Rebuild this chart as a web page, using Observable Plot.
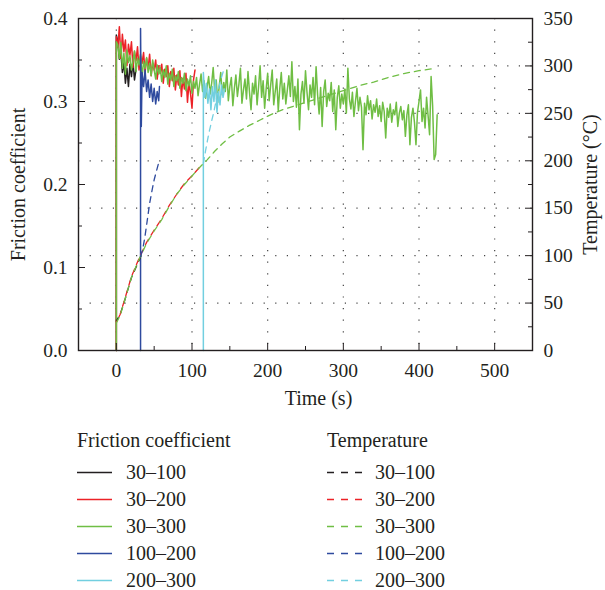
<!DOCTYPE html>
<html>
<head>
<meta charset="utf-8">
<script src="https://cdn.jsdelivr.net/npm/d3@7"></script>
<script src="https://cdn.jsdelivr.net/npm/@observablehq/plot@0.6"></script>
<style>
  body { margin: 0; background: #fff; font-family: "Liberation Serif", serif; color: #231f20; }
  #legend { position: relative; width: 605px; height: 170px; font-size: 20px; }
  .lg { position: absolute; height: 27px; line-height: 27px; white-space: nowrap; }
  .lg svg { position: absolute; top: 0; }
</style>
</head>
<body>
<div id="chart"></div>
<div id="legend"></div>
<script>
// ---------- tick labels / scales ----------
const xTicks = [0, 100, 200, 300, 400, 500];
const xMinorTicks = [50, 150, 250, 350, 450];
const frictionTicks = [0, 0.1, 0.2, 0.3, 0.4];
const frictionMinorTicks = [0.05, 0.15, 0.25, 0.35];
const tempTicks = [0, 50, 100, 150, 200, 250, 300, 350];
const tempMinorTicks = [25, 75, 125, 175, 225, 275, 325];
const tempGrid = [50, 100, 150, 200, 250, 300];

// ---------- series names ----------
const seriesNames = ["30–100", "30–200", "30–300", "100–200", "200–300"];
const seriesColors = ["#231f20", "#ec2227", "#6fbe44", "#2e4a9e", "#72cfe0"];

// ---------- friction coefficient ----------
const blackTime = [0, 0, 2, 4, 6, 8, 10, 12, 14, 16, 18, 20, 22, 24, 26];
const blackFriction = [0, 0.380, 0.372, 0.351, 0.360, 0.335, 0.347, 0.322, 0.340, 0.318, 0.345, 0.330, 0.348, 0.326, 0.339];

// red: first point is the rise at t=0, then samples every 2 s from t=0
const redStart = 0, redStep = 2;
const redFriction = [0,
  0.378, 0.365, 0.390, 0.352, 0.381, 0.360, 0.374, 0.343, 0.369, 0.356,
  0.372, 0.341, 0.360, 0.349, 0.366, 0.338, 0.355, 0.346, 0.359, 0.335,
  0.352, 0.340, 0.357, 0.331, 0.346, 0.338, 0.350, 0.327, 0.343, 0.334,
  0.345, 0.322, 0.339, 0.330, 0.343, 0.318, 0.336, 0.325, 0.340, 0.314,
  0.332, 0.320, 0.337, 0.306, 0.328, 0.315, 0.334, 0.299, 0.322, 0.310,
  0.292, 0.326, 0.338];

// green: first point is the rise at t=0, then samples every 2 s from t=0
const greenStart = 0, greenStep = 2;
const greenFriction = [0, 0.372,
  0.368, 0.352, 0.371, 0.340, 0.358, 0.333, 0.362, 0.347, 0.355, 0.338,
  0.349, 0.361, 0.336, 0.352, 0.344, 0.357, 0.329, 0.348, 0.340, 0.353,
  0.335, 0.346, 0.331, 0.350, 0.338, 0.327, 0.344, 0.333, 0.341, 0.324,
  0.338, 0.329, 0.343, 0.321, 0.334, 0.326, 0.339, 0.318, 0.331, 0.325,
  0.336, 0.316, 0.329, 0.322, 0.334, 0.313, 0.327, 0.319, 0.331, 0.310,
  0.324, 0.316, 0.329, 0.307, 0.321, 0.333, 0.312, 0.325, 0.304, 0.318,
  0.330, 0.309, 0.322, 0.341, 0.313, 0.326, 0.299, 0.319, 0.335, 0.308,
  0.323, 0.312, 0.338, 0.301, 0.318, 0.329, 0.295, 0.316, 0.332, 0.306,
  0.321, 0.340, 0.298, 0.314, 0.327, 0.303, 0.336, 0.311, 0.290, 0.322,
  0.309, 0.331, 0.296, 0.318, 0.343, 0.305, 0.325, 0.292, 0.315, 0.334,
  0.301, 0.320, 0.338, 0.296, 0.312, 0.327, 0.289, 0.316, 0.335, 0.303,
  0.322, 0.297, 0.314, 0.331, 0.306, 0.348, 0.300, 0.318, 0.293, 0.327,
  0.266, 0.309, 0.324, 0.298, 0.337, 0.311, 0.290, 0.320, 0.305, 0.329,
  0.296, 0.342, 0.308, 0.285, 0.317, 0.270, 0.312, 0.326, 0.294, 0.310,
  0.301, 0.323, 0.288, 0.314, 0.266, 0.305, 0.319, 0.292, 0.309, 0.297,
  0.315, 0.286, 0.340, 0.303, 0.291, 0.311, 0.282, 0.300, 0.316, 0.289,
  0.305, 0.293, 0.242, 0.298, 0.284, 0.307, 0.290, 0.301, 0.279, 0.296,
  0.287, 0.303, 0.282, 0.295, 0.276, 0.299, 0.288, 0.256, 0.292, 0.281,
  0.297, 0.275, 0.290, 0.284, 0.299, 0.270, 0.286, 0.294, 0.278, 0.289,
  0.258, 0.284, 0.296, 0.248, 0.281, 0.292, 0.275, 0.248, 0.287, 0.300,
  0.314, 0.276, 0.292, 0.268, 0.305, 0.283, 0.260, 0.330, 0.295, 0.230,
  0.236, 0.284];

const blueTime = [32, 32, 33, 34, 36, 38, 40, 42, 44, 46, 48, 50, 52, 54, 56, 57];
const blueFriction = [0, 0.388, 0.270, 0.335, 0.318, 0.338, 0.312, 0.326, 0.305, 0.321, 0.300, 0.316, 0.297, 0.312, 0.301, 0.318];

const cyanTime = [115, 115, 117, 119, 121, 123, 125, 127, 129, 131, 133, 135, 137, 139, 141, 143];
const cyanFriction = [0, 0.335, 0.305, 0.322, 0.298, 0.315, 0.290, 0.318, 0.300, 0.326, 0.287, 0.312, 0.296, 0.320, 0.305, 0.315];

// ---------- temperature (°C) ----------
const blackTempTime = [0, 5, 10, 20, 30, 34];
const blackTemp = [31, 38, 50, 77, 95, 102];
const redTempTime = [0, 5, 10, 20, 30, 40, 50, 60, 70, 80, 90, 100, 112];
const redTemp = [30, 38, 51, 78, 97, 114, 127, 139, 153, 165, 176, 184, 195];
const greenTempTime = [0, 5, 10, 20, 30, 40, 50, 60, 70, 80, 90, 100, 110, 120, 130, 140, 150, 160, 175, 190,
  205, 220, 240, 260, 280, 300, 320, 340, 360, 380, 400, 418];
const greenTemp = [29, 37, 50, 77, 96, 113, 126, 138, 152, 165, 175, 184, 193, 201, 210, 218, 225, 230, 237, 243,
  249, 254, 259, 264, 269, 274, 279, 283, 288, 292, 295, 297];
const blueTempTime = [32, 35, 38, 41, 44, 47, 50, 53, 56];
const blueTemp = [99, 107, 121, 138, 155, 168, 180, 189, 198];
const cyanTempTime = [115, 118, 122, 126, 129, 132, 135, 139, 142];
const cyanTemp = [197, 211, 228, 242, 252, 264, 276, 288, 296];

// ---------- build tables ----------
const K = 0.4 / 350; // temperature → left-axis units
const pairs = (time, vals) => time.map((t, i) => ({t, v: vals[i]}));
const sampled = (t0, dt, vals) => vals.map((v, i) => ({t: i === 0 ? t0 : t0 + (i - 1) * dt, v}));

const frictionSeries = [
  pairs(blackTime, blackFriction),
  sampled(redStart, redStep, redFriction),
  sampled(greenStart, greenStep, greenFriction),
  pairs(blueTime, blueFriction),
  pairs(cyanTime, cyanFriction)
];
const tempSeries = [
  pairs(blackTempTime, blackTemp),
  pairs(redTempTime, redTemp),
  pairs(greenTempTime, greenTemp),
  pairs(blueTempTime, blueTemp),
  pairs(cyanTempTime, cyanTemp)
];
const dashOffsets = [2, 5, 0, 0, 0];

const W = 605, H = 420, ML = 78, MR = 73, MT = 18, MB = 70;
const PW = W - ML - MR, PH = H - MT - MB;
const ink = "#231f20";
const dot = {stroke: "#444", strokeWidth: 1.2, strokeDasharray: "1.2,10.4"};

const marks = [
  Plot.ruleX(xTicks, {x: d => d, ...dot}),
  Plot.ruleY(tempGrid, {y: d => d * K, ...dot}),
  ...frictionSeries.map((s, i) => Plot.line(s, {x: "t", y: "v", stroke: seriesColors[i], strokeWidth: 1.5})),
  ...tempSeries.map((s, i) => Plot.line(s, {x: "t", y: d => d.v * K, stroke: seriesColors[i], strokeWidth: 1.3,
    strokeDasharray: "6,5", strokeDashoffset: dashOffsets[i]})),
  // inward ticks
  Plot.tickY(frictionTicks, {y: d => d, insetRight: PW - 7, stroke: ink}),
  Plot.tickY(frictionMinorTicks, {y: d => d, insetRight: PW - 4, stroke: ink}),
  Plot.tickY(tempTicks, {y: d => d * K, insetLeft: PW - 7, stroke: ink}),
  Plot.tickY(tempMinorTicks, {y: d => d * K, insetLeft: PW - 4, stroke: ink}),
  Plot.tickX(xTicks, {x: d => d, insetTop: PH - 7, stroke: ink}),
  Plot.tickX(xMinorTicks, {x: d => d, insetTop: PH - 4, stroke: ink}),
  Plot.frame({stroke: ink, strokeWidth: 1.4}),
  Plot.axisY(frictionTicks, {anchor: "left", tickSize: 0, tickPadding: 11, tickFormat: d3.format(".1f"), label: null}),
  Plot.axisY(tempTicks.map(d => d * K), {anchor: "right", tickSize: 0, tickPadding: 11,
    tickFormat: d => String(Math.round(d / K)), label: null}),
  Plot.axisX(xTicks, {anchor: "bottom", tickSize: 0, tickPadding: 13, label: null}),
  Plot.text(["Friction coefficient"], {text: d => d, frameAnchor: "left", dx: -60, rotate: -90, fontSize: 20,
    textAnchor: "middle", lineAnchor: "middle"}),
  Plot.text(["Temperature (°C)"], {text: d => d, frameAnchor: "right", dx: 58, rotate: -90, fontSize: 20,
    textAnchor: "middle", lineAnchor: "middle"}),
  Plot.text(["Time (s)"], {text: d => d, frameAnchor: "bottom", dy: 48, dx: 13, fontSize: 20,
    textAnchor: "middle", lineAnchor: "middle"})
];

const chart = Plot.plot({
  width: W, height: H,
  marginLeft: ML, marginRight: MR, marginTop: MT, marginBottom: MB,
  x: {domain: [-50, 550]},
  y: {domain: [0, 0.4]},
  style: {fontFamily: '"Liberation Serif", serif', fontSize: "19.5px", color: ink, background: "#fff", overflow: "visible"},
  marks
});
document.getElementById("chart").appendChild(chart);

// ---------- legend ----------
const legend = document.getElementById("legend");
const add = (html, left, center) => {
  const d = document.createElement("div");
  d.className = "lg";
  d.style.left = left + "px";
  d.style.top = (center - 13.5) + "px";
  d.innerHTML = html;
  legend.appendChild(d);
};
add("Friction coefficient", 77, 20);
add("Temperature", 327, 20);
seriesNames.forEach((name, i) => {
  const cy = 52 + i * 27;
  add(`<svg width="36" height="27" style="left:0"><line x1="0" x2="35" y1="13.5" y2="13.5" stroke="${seriesColors[i]}" stroke-width="1.5"/></svg><span style="margin-left:49px">${name}</span>`, 77, cy);
  add(`<svg width="36" height="27" style="left:0"><line x1="0" x2="35" y1="13.5" y2="13.5" stroke="${seriesColors[i]}" stroke-width="1.5" stroke-dasharray="7,7"/></svg><span style="margin-left:48px">${name}</span>`, 327, cy);
});
</script>
</body>
</html>
